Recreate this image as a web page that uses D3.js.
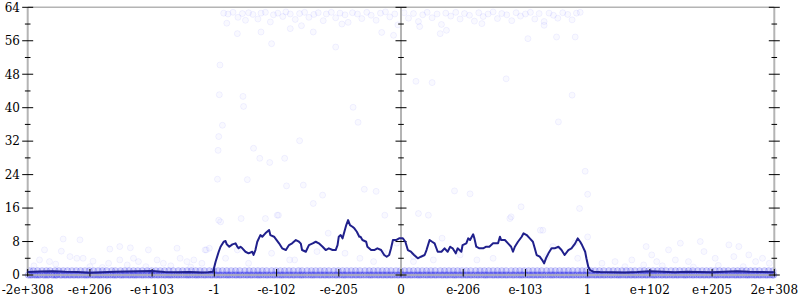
<!DOCTYPE html>
<html><head><meta charset="utf-8">
<script src="https://cdn.jsdelivr.net/npm/d3@7"></script>
<style>
html,body{margin:0;padding:0;background:#fff;}
svg{display:block;}
</style></head>
<body><svg id="c" width="800" height="300"></svg>
<script>
// x positions are expressed in tick units (tick i sits at position i, from -6 to 6)
const xTickLabels = ["-2e+308","-e+206","-e+103","-1","-e-102","-e-205","0","e-206","e-103","1","e+102","e+205","2e+308"];
const xTickPos = [-6,-5,-4,-3,-2,-1,0,1,2,3,4,5,6];
const yMajor = [0,8,16,24,32,40,48,56,64];
const yMinor = [4,12,20,28,36,44,52,60];

// moving-average line [x, value]
const lineX = [-6,-5.8,-5.6,-5.4,-5.2,-5.0,-4.8,-4.6,-4.4,-4.2,-4.0,-3.8,-3.6,-3.4,-3.2,-3.1,-3.02,
 -2.98,-2.93,-2.90,-2.85,-2.82,-2.80,-2.76,-2.71,-2.66,-2.63,-2.61,-2.58,-2.55,-2.50,-2.45,-2.39,-2.37,-2.34,-2.31,-2.26,-2.23,-2.18,-2.12,-2.10,-2.04,-2.02,-1.96,-1.91,-1.85,-1.80,-1.75,-1.69,-1.64,-1.61,-1.59,-1.53,-1.48,-1.42,-1.37,-1.32,-1.26,-1.21,-1.16,-1.10,-1.05,-1.02,-1.0,-0.97,-0.94,-0.91,-0.88,-0.85,-0.82,-0.78,-0.75,-0.71,-0.67,-0.65,-0.62,-0.56,-0.54,-0.48,-0.43,-0.38,-0.32,-0.27,-0.23,-0.19,-0.16,-0.13,-0.08,-0.03,
 0.03,0.07,0.11,0.16,0.21,0.27,0.32,0.38,0.41,0.46,0.50,0.54,0.56,0.59,0.65,0.70,0.75,0.79,0.83,0.88,0.91,0.97,0.99,1.05,1.08,1.11,1.16,1.18,1.21,1.26,1.32,1.37,1.42,1.48,1.50,1.56,1.59,1.61,1.67,1.72,1.77,1.80,1.83,1.88,1.94,1.97,2.02,2.07,2.12,2.15,2.18,2.23,2.27,2.30,2.33,2.37,2.42,2.47,2.53,2.58,2.63,2.69,2.74,2.80,2.84,2.88,2.91,2.96,2.98,3.01,3.04,3.09,
 3.2,3.4,3.6,3.8,4.0,4.2,4.4,4.6,4.8,5.0,5.2,5.4,5.6,5.8,6.0];
const lineV = [0.7,0.85,0.9,0.75,0.7,0.55,0.65,0.75,0.85,0.9,0.95,0.7,0.65,0.7,0.6,0.65,0.79,
 3.18,5.56,6.76,7.95,8.12,7.33,6.76,7.33,7.57,6.76,6.38,6.76,6.38,5.56,5.18,5.56,4.78,5.97,7.95,9.55,9.15,9.96,10.75,9.55,9.15,8.76,7.57,6.38,5.97,7.16,7.57,8.36,7.95,7.5,5.97,5.56,7.16,7.57,7.95,7.57,6.76,5.97,6.38,5.97,5.97,7.16,9.15,9.55,8.76,10.34,11.94,13.13,11.94,11.54,11.15,10.34,9.15,9.15,8.36,7.95,6.76,5.97,5.97,6.38,5.97,4.78,4.37,4.78,6.38,8.36,8.36,8.76,
 8.76,7.95,5.97,5.56,4.78,3.99,4.37,4.78,5.97,8.36,7.95,7.57,6.76,5.56,5.56,6.38,5.56,6.76,6.38,5.18,6.38,5.56,7.16,7.57,8.76,8.36,9.72,8.76,6.76,6.38,6.38,6.76,6.76,7.57,7.57,7.57,9.15,8.36,8.36,7.57,6.76,5.56,6.76,7.95,9.15,9.96,9.55,8.76,7.95,6.38,4.78,4.37,3.58,2.79,3.99,5.18,6.38,6.38,6.76,5.97,4.78,5.97,6.38,7.57,8.76,7.95,7.16,5.56,3.99,1.98,1.19,0.79,
 0.7,0.65,0.6,0.7,0.9,0.75,0.65,0.75,0.7,0.65,0.8,0.9,0.75,0.7,0.65];

// dense rows of samples at values 0 and 1 (x positions)
const row0X = [-5.99,-5.96,-5.93,-5.89,-5.86,-5.83,-5.8,-5.75,-5.72,-5.69,-5.66,-5.61,-5.58,-5.55,-5.53,-5.48,-5.45,-5.41,-5.38,-5.34,-5.31,-5.27,-5.24,-5.2,-5.17,-5.13,-5.09,-5.06,-5.03,-4.99,-4.95,-4.92,-4.88,-4.85,-4.82,-4.78,-4.74,-4.71,-4.67,-4.63,-4.6,-4.57,-4.52,-4.49,-4.46,-4.42,-4.38,-4.35,-4.31,-4.28,-4.25,-4.21,-4.17,-4.14,-4.1,-4.06,-4.02,-4.0,-3.96,-3.92,-3.89,-3.85,-3.81,-3.78,-3.74,-3.71,-3.68,-3.64,-3.6,-3.57,-3.53,-3.49,-3.45,-3.42,-3.39,-3.35,-3.31,-3.28,-3.25,-3.21,-3.17,-3.14,-3.1,-3.06,-3.03,-2.99,-2.96,-2.92,-2.89,-2.85,-2.81,-2.78,-2.75,-2.71,-2.67,-2.64,-2.6,-2.57,-2.53,-2.49,-2.46,-2.42,-2.39,-2.35,-2.31,-2.28,-2.25,-2.21,-2.17,-2.14,-2.1,-2.06,-2.03,-1.99,-1.95,-1.92,-1.89,-1.85,-1.81,-1.78,-1.74,-1.71,-1.67,-1.63,-1.6,-1.57,-1.53,-1.49,-1.45,-1.42,-1.39,-1.35,-1.31,-1.28,-1.24,-1.21,-1.17,-1.14,-1.1,-1.06,-1.03,-0.99,-0.95,-0.92,-0.89,-0.85,-0.81,-0.78,-0.74,-0.71,-0.67,-0.64,-0.6,-0.56,-0.52,-0.49,-0.46,-0.42,-0.38,-0.35,-0.31,-0.28,-0.24,-0.21,-0.17,-0.14,-0.1,-0.06,-0.03,0.01,0.04,0.08,0.11,0.15,0.18,0.22,0.26,0.29,0.32,0.36,0.4,0.43,0.47,0.5,0.54,0.57,0.61,0.65,0.68,0.72,0.75,0.79,0.83,0.86,0.89,0.93,0.97,1.0,1.04,1.07,1.11,1.14,1.18,1.22,1.25,1.29,1.33,1.36,1.39,1.43,1.47,1.5,1.54,1.57,1.61,1.64,1.68,1.71,1.75,1.79,1.82,1.86,1.9,1.93,1.96,2.0,2.04,2.07,2.11,2.14,2.18,2.21,2.25,2.28,2.32,2.36,2.4,2.43,2.46,2.5,2.54,2.57,2.61,2.64,2.68,2.71,2.75,2.78,2.82,2.86,2.89,2.93,2.97,3.0,3.03,3.07,3.11,3.14,3.18,3.21,3.25,3.28,3.32,3.36,3.39,3.43,3.47,3.5,3.53,3.57,3.61,3.64,3.68,3.71,3.75,3.78,3.82,3.86,3.89,3.93,3.96,4.0,4.04,4.07,4.1,4.14,4.18,4.21,4.25,4.28,4.32,4.36,4.39,4.43,4.46,4.5,4.54,4.57,4.6,4.64,4.68,4.71,4.75,4.79,4.82,4.86,4.89,4.93,4.96,5.0,5.04,5.07,5.1,5.14,5.18,5.21,5.25,5.28,5.32,5.36,5.39,5.43,5.46,5.5,5.54,5.57,5.6,5.64,5.68,5.71,5.75,5.78,5.82,5.86,5.89,5.93,5.97,5.99];
const row1X = [-5.97,-5.91,-5.84,-5.77,-5.7,-5.64,-5.56,-5.5,-5.43,-5.36,-5.29,-5.22,-5.15,-5.08,-5.01,-4.94,-4.87,-4.8,-4.73,-4.65,-4.59,-4.51,-4.44,-4.37,-4.3,-4.23,-4.16,-4.08,-4.01,-3.94,-3.87,-3.8,-3.73,-3.66,-3.58,-3.51,-3.44,-3.37,-3.3,-3.23,-3.16,-3.08,-3.01,-2.94,-2.87,-2.8,-2.73,-2.66,-2.59,-2.51,-2.44,-2.37,-2.3,-2.23,-2.16,-2.08,-2.01,-1.94,-1.87,-1.8,-1.73,-1.65,-1.59,-1.51,-1.44,-1.37,-1.3,-1.23,-1.16,-1.08,-1.01,-0.94,-0.87,-0.8,-0.73,-0.66,-0.58,-0.51,-0.44,-0.37,-0.3,-0.23,-0.16,-0.08,-0.01,0.06,0.13,0.2,0.27,0.34,0.41,0.48,0.55,0.63,0.7,0.77,0.84,0.91,0.98,1.05,1.12,1.2,1.27,1.34,1.41,1.48,1.55,1.62,1.69,1.77,1.84,1.91,1.98,2.05,2.12,2.19,2.26,2.34,2.41,2.48,2.55,2.62,2.69,2.76,2.84,2.91,2.98,3.05,3.12,3.19,3.26,3.34,3.41,3.48,3.55,3.62,3.69,3.76,3.84,3.91,3.98,4.05,4.12,4.19,4.26,4.34,4.41,4.48,4.55,4.62,4.69,4.77,4.84,4.91,4.98,5.05,5.12,5.19,5.26,5.34,5.41,5.48,5.55,5.62,5.69,5.76,5.84,5.91,5.98];

// individual samples [x, value]
const topX = [-2.85,-2.78,-2.7,-2.62,-2.55,-2.5,-2.45,-2.38,-2.3,-2.25,-2.18,-2.1,-2.05,-1.98,-1.9,-1.85,-1.78,-1.7,-1.63,-1.55,-1.48,-1.4,-1.33,-1.25,-1.2,-1.12,-1.05,-0.98,-0.9,-0.85,-0.78,-0.7,-0.63,-0.55,-0.48,-0.4,-0.33,-0.25,-0.18,-0.1,-0.05,0.05,0.12,0.2,0.28,0.35,0.42,0.5,0.58,0.65,0.72,0.8,0.88,0.95,1.02,1.1,1.18,1.25,1.32,1.4,1.48,1.55,1.62,1.7,1.78,1.85,1.92,2.0,2.08,2.15,2.22,2.3,2.38,2.45,2.52,2.6,2.68,2.75,2.82,2.88,
 -2.08,-1.05,-2.63,2.5,2.04,2.8,-2.25,-1.41,0.63,0.73,-0.31,-0.12,-1.78,-2.8,-1.6,-0.95,0.3,1.3,2.3];
const topV = [62.6,62.4,62.8,61.6,62.5,60.9,62.7,62.3,61.2,62.6,62.8,60.5,62.2,62.6,61.8,62.9,62.4,61.1,62.5,62.8,61.6,62.3,62.7,60.8,62.4,62.8,61.5,62.6,62.2,60.4,62.7,62.4,61.3,62.8,62.1,60.9,62.6,62.9,61.7,62.4,59.8,62.7,61.4,62.5,60.6,62.2,62.8,61.5,62.4,59.9,62.6,61.9,62.8,61.2,62.5,62.1,60.7,62.7,61.8,62.4,62.9,61.3,62.5,62.2,60.8,62.7,61.9,62.4,62.8,61.2,62.5,60.6,62.6,62.1,61.4,62.7,62.3,61.0,62.6,62.8,
 55.3,54.5,57.7,56.9,56.5,56.9,58.1,58.1,57.7,58.5,58.0,57.3,58.9,60.2,59.6,60.0,59.4,60.1,59.7];
const midX = [-2.91,-2.92,-2.54,-2.53,-2.87,-2.93,-2.94,-2.37,-2.27,-2.11,-1.87,-1.63,-0.77,-0.69,-2.95,-2.47,-1.84,-1.57,-1.26,-0.59,-0.40,0.24,0.50,1.69,2.75,2.53,2.96,0.86,1.11,3.0,
 -2.90,-1.97,-1.41,-3.13,-2.63,-2.08,-1.79,-1.35,-0.9,-0.66,-0.28,-1.17,-0.07,-0.44,0.2,-0.26,0.28,0.44,0.66,1.77,1.93,2.28,2.44,2.79,0.2,0.52,1.22,1.48,2.84,0.95,2.34,-2.93,-2.57,-2.18,-1.99,-3.08,-2.82,-2.45,-1.71,1.75,2.24,2.87,
 -5.43,-5.16,-5.73,-5.46,-4.68,-4.52,-4.35,-4.06,-3.6,-3.15,-5.81,-5.65,-5.32,-5.21,-5.11,-4.95,-4.7,-4.52,-4.3,-4.22,-3.92,-3.82,-3.55,-3.44,-3.33,-3.2,-5.9,-5.55,-5.0,-4.8,-4.4,-4.1,-3.7,-3.38,
 3.0,3.94,4.03,4.3,4.49,4.81,4.87,5.27,5.43,5.59,5.81,3.44,3.71,4.11,4.41,4.62,5.05,5.35,5.7,5.92,3.23,3.6,4.2,4.7,5.1,5.5,3.9];
const midV = [50.2,43.1,42.7,40.3,35.8,33.1,29.8,30.3,27.9,26.9,27.9,32.1,40.1,36.5,22.9,22.8,21.3,21.5,19.1,20.5,20.0,46.3,46.0,46.9,43.0,36.6,24.8,20.1,19.4,19.3,
 12.7,14.3,17.1,6.0,6.0,5.2,3.6,5.6,5.2,4.0,5.2,10.0,7.6,3.2,3.2,14.3,14.7,14.3,8.8,13.9,16.3,10.7,6.8,7.6,4.4,3.6,3.6,4.0,4.0,4.8,4.4,13.1,13.5,13.5,14.3,6.4,4.0,2.8,3.6,13.5,10.7,15.9,
 8.6,8.4,6.0,5.7,6.2,6.8,6.5,6.0,6.4,6.0,3.6,3.2,4.4,4.0,4.0,3.3,2.8,3.6,4.0,3.2,3.6,2.8,4.0,3.2,3.6,2.8,2.2,2.6,2.0,1.8,2.4,2.0,2.2,1.9,
 9.1,6.8,4.8,6.0,7.6,8.0,5.6,7.2,6.8,4.8,4.0,3.2,3.6,3.2,3.6,3.2,4.0,4.4,3.2,2.8,2.8,2.0,2.2,1.9,2.3,2.0,2.4];

const svg = d3.select("#c");
const FONT = "'DejaVu Serif', serif";
const x = d3.scaleLinear().domain([-6,6]).range([27.7,774.3]);
const y = d3.scaleLinear().domain([0,64]).range([275,7.3]);

// sample points
const pts = svg.append("g");
pts.selectAll("circle.b1").data(row1X).join("circle")
  .attr("cx", d=>x(d)).attr("cy", y(1)).attr("r",3.2)
  .attr("fill","rgba(60,60,235,0.2)").attr("stroke","rgba(60,60,235,0.18)").attr("stroke-width",1);
pts.selectAll("circle.b0").data(row0X).join("circle")
  .attr("cx", d=>x(d)).attr("cy", y(0)).attr("r",3.2)
  .attr("fill","rgba(40,40,230,0.2)").attr("stroke","rgba(40,40,230,0.22)").attr("stroke-width",1);
const single = topX.map((d,i)=>[d,topV[i]]).concat(midX.map((d,i)=>[d,midV[i]]));
pts.selectAll("circle.s").data(single).join("circle")
  .attr("cx", d=>x(d[0])).attr("cy", d=>y(d[1])).attr("r",3)
  .attr("fill","rgba(0,0,255,0.025)").attr("stroke","rgba(0,0,255,0.055)").attr("stroke-width",1);

// frame lines
const grey = "#b4b4b4";
svg.append("line").attr("x1",x(-6)).attr("x2",x(6)).attr("y1",y(64)).attr("y2",y(64)).attr("stroke",grey).attr("stroke-width",1.5);
svg.append("line").attr("x1",x(-6)).attr("x2",x(6)).attr("y1",y(0)).attr("y2",y(0)).attr("stroke",grey).attr("stroke-width",1.5);
[-6,0,6].forEach(v=>{
  svg.append("line").attr("x1",x(v)).attr("x2",x(v)).attr("y1",y(64)).attr("y2",y(0)).attr("stroke",grey).attr("stroke-width",2);
});

// y ticks on the three vertical axes
const tk = svg.append("g").attr("stroke","#000").attr("stroke-width",1);
[-6,0,6].forEach(v=>{
  yMajor.forEach(t=>tk.append("line").attr("x1",x(v)-5.5).attr("x2",x(v)+5.5).attr("y1",y(t)).attr("y2",y(t)));
  yMinor.forEach(t=>tk.append("line").attr("x1",x(v)-2.8).attr("x2",x(v)+2.8).attr("y1",y(t)).attr("y2",y(t)));
});
xTickPos.forEach(p=>tk.append("line").attr("x1",x(p)).attr("x2",x(p)).attr("y1",y(0)-6).attr("y2",y(0)+1.5));

// y labels
svg.append("g").selectAll("text").data(yMajor).join("text")
  .attr("x",20).attr("y",d=>y(d)).attr("dy","0.36em").attr("text-anchor","end")
  .attr("font-family",FONT).attr("font-size",12).attr("fill","#000").text(d=>d);
// x labels
svg.append("g").selectAll("text").data(xTickPos).join("text")
  .attr("x",d=>x(d)).attr("y",294).attr("text-anchor","middle")
  .attr("font-family",FONT).attr("font-size",12).attr("fill","#000").text((d,i)=>xTickLabels[i]);

// average line
const pts2 = lineX.map((d,i)=>[d,lineV[i]]);
svg.append("path").datum(pts2)
  .attr("d", d3.line().x(d=>x(d[0])).y(d=>y(d[1])))
  .attr("fill","none").attr("stroke","#20208c").attr("stroke-width",2).attr("stroke-linejoin","round");
</script>
</body></html>
